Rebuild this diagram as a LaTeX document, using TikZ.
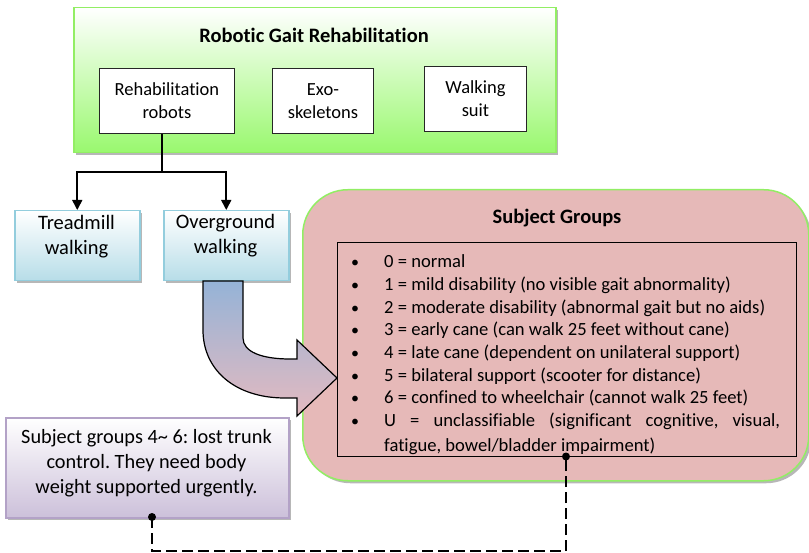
\documentclass[tikz,border=0pt]{standalone}
\usepackage{fontspec}
\setmainfont[Ligatures=NoCommon]{Carlito}
\usetikzlibrary{arrows.meta,shadows}
\frenchspacing

\definecolor{limeedge}{RGB}{146,238,100}
\definecolor{limefill}{RGB}{153,248,110}
\definecolor{rosefill}{RGB}{230,185,184}
\definecolor{skyedge}{RGB}{147,205,221}
\definecolor{skyfill}{RGB}{183,221,232}
\definecolor{lilacedge}{RGB}{179,162,199}
\definecolor{lilacfill}{RGB}{204,192,218}
\definecolor{steelblue}{RGB}{149,179,215}
\definecolor{rosearrow}{RGB}{228,186,192}

\tikzset{
  txt/.style={font=\fontsize{18.5}{23}\selectfont, inner sep=0pt, align=center},
  bigtxt/.style={font=\fontsize{20.5}{25}\selectfont, inner sep=0pt, align=center},
  notetxt/.style={font=\fontsize{20.3}{25}\selectfont, inner sep=0pt, align=center},
  titletxt/.style={font=\bfseries\fontsize{20.5}{23}\selectfont, inner sep=0pt},
  itemtxt/.style={font=\fontsize{18.6}{23}\selectfont, inner sep=0pt, anchor=base west},
  bullettxt/.style={font=\fontsize{16}{23}\selectfont, inner sep=0pt, anchor=base},
  panel/.style={anchor=north west, inner sep=0pt},
  softshadow/.style={drop shadow={shadow xshift=2.5pt, shadow yshift=-2.5pt, fill=black!40, opacity=0.7}},
  gaitpanel/.style={panel, draw=limeedge, line width=1.5pt, top color=white, bottom color=limefill, softshadow},
  whitebox/.style={panel, txt, draw=black!85, line width=0.9pt, fill=white},
  skybox/.style={panel, draw=skyedge, line width=1.5pt, top color=white, bottom color=skyfill, softshadow},
  rosepanel/.style={panel, draw=limeedge, line width=1.5pt, fill=rosefill, rounded corners=45pt, softshadow},
  listbox/.style={panel, draw=black, line width=1pt},
  lilacpanel/.style={panel, draw=lilacedge, line width=1.5pt, top color=white, bottom color=lilacfill, softshadow},
  treeline/.style={line width=1.6pt, draw=black},
  treearrow/.style={treeline, -{Triangle[width=10pt,length=10pt]}},
  linkline/.style={line width=1.8pt, dash pattern=on 11pt off 5pt},
}

\begin{document}
\begin{tikzpicture}[x=1pt, y=-1pt]
\useasboundingbox (0,0) rectangle (809,553);

% Top panel with the three technology boxes
\node[gaitpanel, minimum width=482pt, minimum height=145pt] (gait) at (73,7) {};
\node[titletxt] (gaittitle) at (314,35) {Robotic Gait Rehabilitation};
\node[whitebox, minimum width=135pt, minimum height=65pt] (rehab) at (99,68) {Rehabilitation\\robots};
\node[whitebox, minimum width=101pt, minimum height=65pt] (exo) at (272,68) {Exo-\\skeletons};
\node[whitebox, minimum width=102pt, minimum height=65pt] (suit) at (424,66) {Walking\\suit};

% Walking modes
\node[skybox, minimum width=125pt, minimum height=70pt] (tread) at (14,210) {};
\node[bigtxt] (treadtext) at (76.5,236.5) {Treadmill\\walking};
\node[skybox, minimum width=125pt, minimum height=70pt] (over) at (163,210) {};
\node[bigtxt] (overtext) at (225.5,235.5) {Overground\\walking};

% Fork from the robots box
\coordinate (fork) at (162,172);
\draw[treeline] (fork |- rehab.south) -- (fork);
\draw[treearrow] (fork) -| (tread.north);
\draw[treearrow] (fork) -| (over.north);

% Subject groups panel
\node[rosepanel, minimum width=506pt, minimum height=291pt] (groups) at (302,189) {};
\node[titletxt] (groupstitle) at (557,218) {Subject Groups};

\foreach \i/\t in {0/{0 = normal},
                   1/{1 = mild disability (no visible gait abnormality)},
                   2/{2 = moderate disability (abnormal gait but no aids)},
                   3/{3 = early cane (can walk 25 feet without cane)},
                   4/{4 = late cane (dependent on unilateral support)},
                   5/{5 = bilateral support (scooter for distance)},
                   6/{6 = confined to wheelchair (cannot walk 25 feet)},
                   7/{\makebox[396pt][s]{U = unclassifiable (significant cognitive, visual,}}}{
  \pgfmathsetmacro\yy{262+22.6*\i+6}
  \node[bullettxt] (dot\i) at (355,\yy) {•};
  \node[itemtxt] (item\i) at (384,\yy) {\t};
}
\begin{scope}
  \clip (337,242) rectangle (796,456);
  \node[itemtxt] (item8) at (384,451.5) {fatigue, bowel/bladder impairment)};
\end{scope}
\node[listbox, minimum width=459pt, minimum height=214pt] (list) at (337,242) {};

% Curved arrow from overground walking into the groups
\path[draw=black, line width=1.2pt, top color=steelblue, bottom color=rosearrow, line join=miter]
  (203,281) -- (243,281) -- (243,338)
  .. controls (243,352) and (262,359) .. (290,359) -- (297,359)
  -- (297,340) -- (337,378) -- (297,416) -- (297,398) -- (285,398)
  .. controls (235,398) and (203,370) .. (203,330) -- cycle;

% Note box
\node[lilacpanel, minimum width=283pt, minimum height=100pt] (note) at (5,417) {};
\node[notetxt] (notetext) at (146.5,463) {Subject groups 4\textasciitilde{} 6: lost trunk\\control. They need body\\weight supported urgently.};

% Dashed link between note and list
\coordinate (noteport) at (152,517);
\coordinate (listport) at (566,456.5);
\coordinate (detour) at (152,551);
\draw[linkline] (noteport) -- (detour) -| (listport);
\fill (noteport) circle (4pt);
\fill (listport) circle (4pt);
\end{tikzpicture}
\end{document}
